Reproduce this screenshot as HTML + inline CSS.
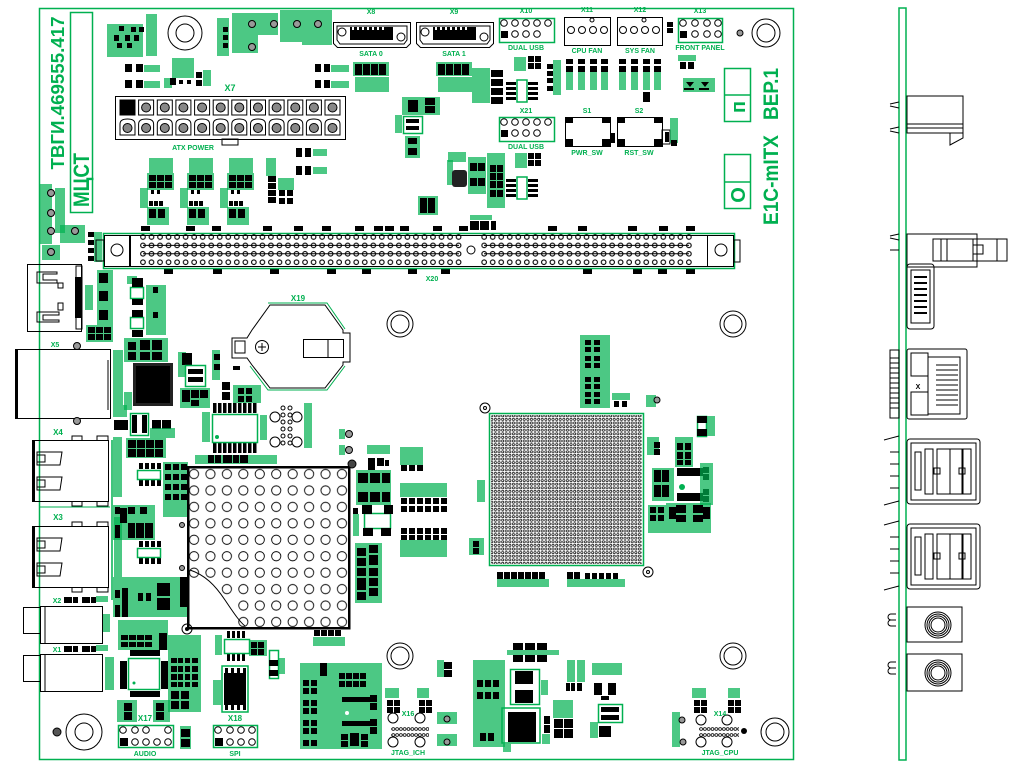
<!DOCTYPE html>
<html><head><meta charset="utf-8">
<style>
html,body{margin:0;padding:0;background:#fff;width:1024px;height:768px;overflow:hidden}
svg{display:block}
text{font-family:"Liberation Sans","DejaVu Sans",sans-serif;font-weight:bold;fill:#00b050}
.g{fill:#00b050}
.l{fill:#00b050;opacity:.7}
.k{fill:#000}
.o{fill:none;stroke:#000;stroke-width:1}
.ow{fill:#fff;stroke:#000;stroke-width:1}
.go{fill:none;stroke:#00b050;stroke-width:1.5}
.gw{fill:#fff;stroke:#00b050;stroke-width:1.5}
.tp{fill:#999;stroke:#000;stroke-width:1}
</style></head><body>
<svg width="1024" height="768" viewBox="0 0 1024 768">
<defs>
<pattern id="bga" x="490" y="414" width="3.6" height="3.6" patternUnits="userSpaceOnUse"><circle cx="1.8" cy="1.8" r="1.15" fill="none" stroke="#000" stroke-width="0.7"/></pattern>
<pattern id="pin" x="138.7" y="232.8" width="8.53" height="8.4" patternUnits="userSpaceOnUse"><circle cx="4.27" cy="4.2" r="2.3" fill="none" stroke="#000" stroke-width="1.1"/></pattern>
<pattern id="bigc" x="185.8" y="465.8" width="16.44" height="16.44" patternUnits="userSpaceOnUse"><circle cx="8.22" cy="8.22" r="4.6" fill="none" stroke="#000" stroke-width="0.9"/></pattern>
<pattern id="sp" x="0" y="0" width="3.8" height="6" patternUnits="userSpaceOnUse"><circle cx="1.9" cy="3" r="1.4" fill="none" stroke="#000" stroke-width="0.8"/></pattern>
</defs>

<!-- board outline -->
<rect x="39.5" y="8.5" width="754" height="751" class="go"/>
<!-- side bar -->
<rect x="899" y="8" width="7" height="752" class="go"/>

<!-- big texts -->
<text transform="translate(64,93) rotate(-90)" text-anchor="middle" font-size="18" textLength="153" lengthAdjust="spacingAndGlyphs">ТВГИ.469555.417</text>
<rect x="70.5" y="12.5" width="22" height="200" class="go"/>
<text transform="translate(89,180) rotate(-90)" text-anchor="middle" font-size="22" textLength="54" lengthAdjust="spacingAndGlyphs">МЦСТ</text>
<text transform="translate(778,94) rotate(-90)" text-anchor="middle" font-size="21" textLength="52" lengthAdjust="spacingAndGlyphs">ВЕР.1</text>
<text transform="translate(778,180) rotate(-90)" text-anchor="middle" font-size="21" textLength="90" lengthAdjust="spacingAndGlyphs">E1C-mITX</text>
<rect x="724.5" y="68.5" width="26" height="53" class="go"/><line x1="724" y1="95" x2="751" y2="95" stroke="#00b050" stroke-width="1.5"/>
<text transform="translate(745,107) rotate(-90)" text-anchor="middle" font-size="20">п</text>
<rect x="724.5" y="154.5" width="26" height="54" class="go"/><line x1="724" y1="182" x2="751" y2="182" stroke="#00b050" stroke-width="1.5"/>
<text transform="translate(745,195) rotate(-90)" text-anchor="middle" font-size="20">О</text>

<!-- mounting holes -->
<g class="o">
<circle cx="185" cy="33" r="17"/><circle cx="185" cy="33" r="9"/>
<circle cx="766" cy="33" r="14"/><circle cx="766" cy="33" r="9"/>
<circle cx="400" cy="324" r="13"/><circle cx="400" cy="324" r="9"/>
<circle cx="733" cy="324" r="13"/><circle cx="733" cy="324" r="9"/>
<circle cx="400" cy="656" r="13"/><circle cx="400" cy="656" r="9"/>
<circle cx="733" cy="656" r="13"/><circle cx="733" cy="656" r="9"/>
<circle cx="775" cy="732" r="14"/><circle cx="775" cy="732" r="9"/>
<circle cx="84" cy="732" r="18"/><circle cx="84" cy="732" r="9"/>
</g>
<circle cx="740" cy="33" r="3" class="tp" fill="#444"/>
<circle cx="57" cy="732" r="4" fill="#555" stroke="#000"/>

<!-- ===== top-left region ===== -->
<rect class="l" x="107" y="24" width="36" height="33"/><rect class="l" x="146" y="14" width="11" height="42"/>
<g class="k"><rect x="119" y="26" width="5" height="5"/><rect x="131" y="27" width="5" height="5"/><rect x="139" y="27" width="5" height="5"/><rect x="114" y="35" width="5" height="6"/><rect x="125" y="35" width="5" height="6"/><rect x="134" y="35" width="5" height="6"/><rect x="117" y="43" width="5" height="5"/><rect x="127" y="43" width="5" height="5"/></g>
<g class="k"><rect x="125" y="64" width="7" height="8"/><rect x="136" y="64" width="7" height="8"/><rect x="125" y="80" width="7" height="8"/><rect x="136" y="80" width="7" height="8"/></g>
<rect class="l" x="144" y="65" width="16" height="7"/><rect class="l" x="144" y="81" width="16" height="7"/>
<rect class="l" x="172" y="58" width="22" height="20"/><rect class="l" x="164" y="78" width="8" height="10"/><rect class="l" x="203" y="70" width="8" height="16"/>
<g class="k"><rect x="170" y="78" width="6" height="7"/><rect x="179" y="80" width="4" height="4"/><rect x="187" y="80" width="4" height="4"/><rect x="196" y="72" width="6" height="6"/><rect x="196" y="80" width="6" height="6"/></g>
<rect class="l" x="217" y="18" width="12" height="38"/><rect class="l" x="232" y="13" width="26" height="40"/><rect class="l" x="258" y="13" width="20" height="22"/><rect class="l" x="280" y="10" width="22" height="32"/><rect class="l" x="302" y="10" width="20" height="35"/><rect class="l" x="322" y="10" width="10" height="35"/>
<g class="k"><rect x="223" y="27" width="5" height="5"/><rect x="223" y="35" width="5" height="5"/><rect x="223" y="43" width="5" height="5"/></g>
<g class="tp"><circle cx="252" cy="24" r="3.5"/><circle cx="274" cy="24" r="3.5"/><circle cx="297" cy="24" r="3.5"/><circle cx="318" cy="24" r="3.5"/><circle cx="252" cy="47" r="3.5"/></g>
<g class="k"><rect x="315" y="64" width="6" height="8"/><rect x="324" y="64" width="6" height="8"/><rect x="315" y="80" width="6" height="8"/><rect x="324" y="80" width="6" height="8"/></g>
<rect class="l" x="331" y="65" width="18" height="7"/><rect class="l" x="331" y="81" width="18" height="7"/>

<!-- ATX power X7 -->
<text x="230" y="91" font-size="9" text-anchor="middle">X7</text>
<rect x="115.5" y="96.5" width="230" height="43" class="o" stroke-width="1.5"/>
<rect x="222" y="139" width="16" height="6" class="o"/>
<g class="o">
<rect x="120" y="100" width="15" height="15" fill="#000"/>
<rect x="138.6" y="100" width="15" height="15"/><rect x="157.3" y="100" width="15" height="15"/><rect x="175.9" y="100" width="15" height="15"/><rect x="194.6" y="100" width="15" height="15"/><rect x="213.2" y="100" width="15" height="15"/><rect x="231.8" y="100" width="15" height="15"/><rect x="250.5" y="100" width="15" height="15"/><rect x="269.1" y="100" width="15" height="15"/><rect x="287.8" y="100" width="15" height="15"/><rect x="306.4" y="100" width="15" height="15"/><rect x="325" y="100" width="15" height="15"/>
<path d="M120,135V124q0-5 7.5-5t7.5,5V135Z M138.6,135V124q0-5 7.5-5t7.5,5V135Z M157.3,135V124q0-5 7.5-5t7.5,5V135Z M175.9,135V124q0-5 7.5-5t7.5,5V135Z M194.6,135V124q0-5 7.5-5t7.5,5V135Z M213.2,135V124q0-5 7.5-5t7.5,5V135Z M231.8,135V124q0-5 7.5-5t7.5,5V135Z M250.5,135V124q0-5 7.5-5t7.5,5V135Z M269.1,135V124q0-5 7.5-5t7.5,5V135Z M287.8,135V124q0-5 7.5-5t7.5,5V135Z M306.4,135V124q0-5 7.5-5t7.5,5V135Z M325,135V124q0-5 7.5-5t7.5,5V135Z"/>
</g>
<g fill="#888" stroke="#000" stroke-width="1">
<circle cx="146.1" cy="107.5" r="4.5"/><circle cx="164.8" cy="107.5" r="4.5"/><circle cx="183.4" cy="107.5" r="4.5"/><circle cx="202.1" cy="107.5" r="4.5"/><circle cx="220.7" cy="107.5" r="4.5"/><circle cx="239.3" cy="107.5" r="4.5"/><circle cx="258" cy="107.5" r="4.5"/><circle cx="276.6" cy="107.5" r="4.5"/><circle cx="295.3" cy="107.5" r="4.5"/><circle cx="313.9" cy="107.5" r="4.5"/><circle cx="332.5" cy="107.5" r="4.5"/>
<circle cx="127.5" cy="128" r="4.5"/><circle cx="146.1" cy="128" r="4.5"/><circle cx="164.8" cy="128" r="4.5"/><circle cx="183.4" cy="128" r="4.5"/><circle cx="202.1" cy="128" r="4.5"/><circle cx="220.7" cy="128" r="4.5"/><circle cx="239.3" cy="128" r="4.5"/><circle cx="258" cy="128" r="4.5"/><circle cx="276.6" cy="128" r="4.5"/><circle cx="295.3" cy="128" r="4.5"/><circle cx="313.9" cy="128" r="4.5"/><circle cx="332.5" cy="128" r="4.5"/>
</g>
<text x="193" y="150" font-size="7" text-anchor="middle">ATX POWER</text>

<!-- clusters under ATX -->
<g id="cl1">
<rect class="l" x="149" y="158" width="24" height="15"/><rect class="l" x="147" y="173" width="27" height="17"/><rect class="l" x="140" y="188" width="8" height="20"/><rect class="l" x="147" y="207" width="22" height="18"/>
<g class="k"><rect x="149" y="175" width="7" height="6"/><rect x="157" y="175" width="7" height="6"/><rect x="165" y="175" width="7" height="6"/><rect x="149" y="182" width="7" height="6"/><rect x="157" y="182" width="7" height="6"/><rect x="165" y="182" width="7" height="6"/><rect x="151" y="190" width="3" height="4"/><rect x="157" y="190" width="3" height="4"/><rect x="149" y="201" width="4" height="5"/><rect x="154" y="201" width="4" height="5"/><rect x="159" y="201" width="4" height="5"/><rect x="149" y="209" width="7" height="9"/><rect x="158" y="209" width="7" height="9"/></g>
</g>
<use href="#cl1" x="40"/><use href="#cl1" x="80"/>
<rect class="l" x="266" y="158" width="10" height="18"/><rect class="l" x="278" y="178" width="16" height="12"/>
<g class="k"><rect x="268" y="176" width="8" height="6"/><rect x="268" y="183" width="8" height="6"/><rect x="268" y="190" width="8" height="6"/><rect x="268" y="197" width="8" height="6"/><rect x="279" y="190" width="6" height="6"/><rect x="287" y="190" width="6" height="6"/><rect x="279" y="198" width="6" height="6"/><rect x="287" y="198" width="6" height="6"/></g>
<g class="k"><rect x="296" y="148" width="6" height="9"/><rect x="305" y="148" width="6" height="9"/><rect x="296" y="166" width="6" height="9"/><rect x="305" y="166" width="6" height="9"/></g>
<rect class="l" x="313" y="149" width="14" height="7"/><rect class="l" x="313" y="167" width="14" height="7"/>

<!-- left edge labels -->
<rect class="l" x="40" y="184" width="12" height="60"/><rect class="l" x="55" y="188" width="10" height="45"/><rect class="l" x="60" y="225" width="25" height="18"/><rect class="l" x="42" y="245" width="18" height="15"/>
<g class="tp"><circle cx="51" cy="193" r="3.5"/><circle cx="51" cy="213" r="3.5"/><circle cx="51" cy="231" r="3.5"/><circle cx="75" cy="231" r="3.5"/><circle cx="51" cy="252" r="3.5"/></g>
<rect class="l" x="94" y="232" width="8" height="30"/>
<g class="k"><rect x="88" y="232" width="6" height="5"/><rect x="88" y="240" width="6" height="5"/><rect x="88" y="248" width="6" height="5"/><rect x="88" y="256" width="6" height="5"/></g>

<!-- ===== connector X20 ===== -->
<g class="k">
<rect x="141" y="226" width="9" height="5"/><rect x="186" y="226" width="9" height="5"/><rect x="212" y="226" width="9" height="5"/><rect x="263" y="226" width="9" height="5"/><rect x="294" y="226" width="9" height="5"/><rect x="322" y="226" width="9" height="5"/><rect x="355" y="226" width="9" height="5"/><rect x="374" y="226" width="9" height="5"/><rect x="385" y="226" width="9" height="5"/><rect x="400" y="226" width="9" height="5"/><rect x="433" y="226" width="9" height="5"/><rect x="459" y="226" width="9" height="5"/><rect x="548" y="226" width="9" height="5"/><rect x="578" y="226" width="9" height="5"/><rect x="628" y="226" width="9" height="5"/><rect x="659" y="226" width="9" height="5"/><rect x="686" y="226" width="9" height="5"/>
<rect x="164" y="269" width="9" height="5"/><rect x="213" y="269" width="9" height="5"/><rect x="270" y="269" width="9" height="5"/><rect x="327" y="269" width="9" height="5"/><rect x="362" y="269" width="9" height="5"/><rect x="408" y="269" width="9" height="5"/><rect x="441" y="269" width="9" height="5"/><rect x="583" y="269" width="9" height="5"/><rect x="633" y="269" width="9" height="5"/><rect x="658" y="269" width="9" height="5"/><rect x="686" y="269" width="9" height="5"/>
<rect x="470" y="221" width="9" height="9"/><rect x="480" y="221" width="9" height="9"/><rect x="491" y="221" width="5" height="9"/>
</g>
<rect class="l" x="470" y="215" width="22" height="5"/>
<text x="432" y="281" font-size="7" text-anchor="middle">X20</text>
<rect x="103.5" y="233.5" width="631" height="35" class="go"/>
<rect x="130.5" y="235.5" width="577" height="31" class="o" stroke-width="0.8"/>
<rect x="138.7" y="232.8" width="324.1" height="33.6" fill="url(#pin)"/>
<rect x="479.9" y="232.8" width="213.3" height="33.6" fill="url(#pin)"/>
<g stroke="#000" stroke-width="1"><line x1="143" y1="245.4" x2="459" y2="245.4"/><line x1="143" y1="253.8" x2="459" y2="253.8"/><line x1="484" y1="245.4" x2="689" y2="245.4"/><line x1="484" y1="253.8" x2="689" y2="253.8"/></g>
<circle cx="471" cy="250" r="4" class="ow"/>
<rect x="104.5" y="235.5" width="25" height="31" class="o"/><circle cx="117" cy="250" r="6" class="o"/><rect x="96" y="240" width="8" height="21" class="o"/>
<rect x="707.5" y="235.5" width="26" height="31" class="o"/><circle cx="721" cy="250" r="6" class="o"/><rect x="734" y="240" width="6" height="22" class="o"/>

<!-- ===== top middle ===== -->
<g id="sata">
<path d="M333.5,22.5h77v21l-4,4h-69l-4,-4z" class="o" stroke-width="1.3"/>
<path d="M337,26h70v14l-3,4h-64l-3,-4z" class="o"/>
<rect x="350" y="27" width="43" height="13" class="k"/>
<g fill="#fff"><rect x="352" y="27" width="2" height="3"/><rect x="357" y="27" width="2" height="3"/><rect x="362" y="27" width="2" height="3"/><rect x="367" y="27" width="2" height="3"/><rect x="372" y="27" width="2" height="3"/><rect x="377" y="27" width="2" height="3"/><rect x="382" y="27" width="2" height="3"/></g>
<circle cx="342" cy="32" r="4" class="ow"/><circle cx="401" cy="37" r="4" class="ow"/>
<rect class="l" x="353" y="62" width="36" height="14"/><rect class="l" x="355" y="77" width="34" height="15"/>
<g class="k"><rect x="355" y="64" width="7" height="11"/><rect x="363" y="64" width="7" height="11"/><rect x="371" y="64" width="7" height="11"/><rect x="379" y="64" width="7" height="11"/></g>
</g>
<use href="#sata" x="83"/>
<text x="371" y="14" font-size="7" text-anchor="middle">X8</text><text x="371" y="56" font-size="7" text-anchor="middle">SATA 0</text>
<text x="454" y="14" font-size="7" text-anchor="middle">X9</text><text x="454" y="56" font-size="7" text-anchor="middle">SATA 1</text>

<rect class="l" x="472" y="68" width="18" height="35"/>
<g class="k"><rect x="491" y="70" width="12" height="7"/><rect x="491" y="79" width="12" height="7"/><rect x="491" y="88" width="12" height="7"/><rect x="491" y="97" width="12" height="7"/></g>
<g id="ic8">
<rect x="517" y="80" width="10" height="22" class="gw" stroke-width="1"/>
<g class="k"><rect x="506" y="82" width="10" height="3"/><rect x="506" y="87" width="10" height="3"/><rect x="506" y="92" width="10" height="3"/><rect x="506" y="97" width="10" height="3"/><rect x="528" y="82" width="10" height="3"/><rect x="528" y="87" width="10" height="3"/><rect x="528" y="92" width="10" height="3"/><rect x="528" y="97" width="10" height="3"/></g>
</g>
<use href="#ic8" y="97"/>
<rect class="l" x="514" y="57" width="12" height="14"/>
<g class="k"><rect x="528" y="56" width="6" height="6"/><rect x="535" y="56" width="6" height="6"/><rect x="528" y="63" width="6" height="6"/><rect x="535" y="63" width="6" height="6"/></g>
<rect class="l" x="553" y="60" width="8" height="35"/>
<g class="k"><rect x="547" y="64" width="6" height="5"/><rect x="547" y="71" width="6" height="5"/><rect x="547" y="78" width="6" height="5"/><rect x="547" y="86" width="6" height="5"/></g>
<!-- fan pads -->
<g id="fanp">
<rect class="l" x="566" y="72" width="7" height="18"/><rect class="l" x="578" y="72" width="7" height="18"/><rect class="l" x="590" y="72" width="7" height="18"/><rect class="l" x="601" y="72" width="7" height="18"/>
<g class="k"><rect x="566" y="59" width="7" height="5"/><rect x="566" y="66" width="7" height="6"/><rect x="578" y="59" width="7" height="5"/><rect x="578" y="66" width="7" height="6"/><rect x="590" y="59" width="7" height="5"/><rect x="590" y="66" width="7" height="6"/><rect x="601" y="59" width="7" height="5"/><rect x="601" y="66" width="7" height="6"/></g>
</g>
<use href="#fanp" x="53"/>
<g class="k"><rect x="643" y="92" width="7" height="10"/><rect x="667" y="22" width="6" height="5"/><rect x="667" y="28" width="6" height="5"/><rect x="680" y="62" width="6" height="7"/><rect x="688" y="62" width="6" height="7"/></g>
<rect class="l" x="678" y="55" width="18" height="6"/><rect class="l" x="683" y="78" width="32" height="14"/>
<g class="k"><path d="M686,82h8l-4,5z M701,82h8l-4,5z"/><rect x="684" y="88" width="10" height="2"/><rect x="699" y="88" width="10" height="2"/></g>

<rect class="l" x="402" y="97" width="38" height="18"/>
<g class="k"><rect x="408" y="100" width="10" height="12"/><rect x="425" y="98" width="10" height="7"/><rect x="425" y="106" width="10" height="7"/></g>
<rect x="403.5" y="116.5" width="19" height="17" class="gw" stroke-width="1"/>
<g class="k"><rect x="406" y="119" width="13" height="4"/><rect x="406" y="126" width="13" height="4"/></g>
<rect class="l" x="395" y="115" width="7" height="18"/>
<rect class="l" x="405" y="136" width="15" height="22"/>
<g class="k"><rect x="408" y="138" width="9" height="6"/><rect x="408" y="148" width="9" height="7"/></g>
<rect class="l" x="448" y="152" width="18" height="10"/><rect class="l" x="447" y="160" width="6" height="25"/>
<rect x="452" y="170" width="15" height="17" rx="3" fill="#222"/>
<rect class="l" x="468" y="157" width="18" height="37"/>
<g class="k"><rect x="470" y="163" width="7" height="8"/><rect x="478" y="163" width="7" height="8"/><rect x="470" y="178" width="7" height="8"/><rect x="478" y="178" width="7" height="8"/></g>
<rect class="l" x="487" y="153" width="18" height="55"/>
<g class="k"><rect x="490" y="165" width="6" height="7"/><rect x="497" y="165" width="6" height="7"/><rect x="490" y="173" width="6" height="7"/><rect x="497" y="173" width="6" height="7"/><rect x="490" y="181" width="6" height="7"/><rect x="497" y="181" width="6" height="7"/><rect x="490" y="190" width="6" height="7"/><rect x="497" y="190" width="6" height="7"/></g>
<rect class="l" x="515" y="153" width="12" height="15"/>
<g class="k"><rect x="528" y="153" width="6" height="6"/><rect x="535" y="153" width="6" height="6"/><rect x="528" y="160" width="6" height="6"/><rect x="535" y="160" width="6" height="6"/></g>
<rect class="l" x="418" y="196" width="20" height="19"/>
<g class="k"><rect x="420" y="198" width="7" height="15"/><rect x="428" y="198" width="7" height="15"/></g>

<!-- X10 / X21 dual usb -->
<g id="dusb">
<rect x="499.5" y="18.5" width="55" height="24" class="go"/>
<g class="o" stroke-width="1.2"><circle cx="504" cy="23" r="3.3"/><circle cx="515" cy="23" r="3.3"/><circle cx="526" cy="23" r="3.3"/><circle cx="537" cy="23" r="3.3"/><circle cx="548" cy="23" r="3.3"/><circle cx="515" cy="34" r="3.3"/><circle cx="526" cy="34" r="3.3"/><circle cx="537" cy="34" r="3.3"/></g>
<rect x="501" y="31" width="7" height="7" class="k"/>
</g>
<use href="#dusb" y="99"/>
<text x="526" y="13" font-size="7" text-anchor="middle">X10</text><text x="526" y="50" font-size="7" text-anchor="middle">DUAL USB</text>
<text x="526" y="113" font-size="7" text-anchor="middle">X21</text><text x="526" y="149" font-size="7" text-anchor="middle">DUAL USB</text>
<!-- fans -->
<rect x="564.5" y="17.5" width="46" height="28" class="o"/>
<g class="o" stroke-width="1.2"><circle cx="571" cy="30" r="3.5"/><circle cx="582" cy="30" r="3.5"/><circle cx="593" cy="30" r="3.5"/><circle cx="604" cy="30" r="3.5"/><circle cx="592" cy="20" r="2"/></g>
<rect x="617.5" y="17.5" width="45" height="28" class="o"/>
<g class="o" stroke-width="1.2"><circle cx="623" cy="30" r="3.5"/><circle cx="634" cy="30" r="3.5"/><circle cx="645" cy="30" r="3.5"/><circle cx="656" cy="30" r="3.5"/><circle cx="644" cy="20" r="2"/></g>
<text x="587" y="12" font-size="7" text-anchor="middle">X11</text><text x="587" y="53" font-size="7" text-anchor="middle">CPU FAN</text>
<text x="640" y="12" font-size="7" text-anchor="middle">X12</text><text x="640" y="53" font-size="7" text-anchor="middle">SYS FAN</text>
<!-- X13 -->
<rect x="678.5" y="18.5" width="44" height="24" class="go"/>
<g class="o" stroke-width="1.2"><circle cx="683" cy="23" r="3.3"/><circle cx="695" cy="23" r="3.3"/><circle cx="707" cy="23" r="3.3"/><circle cx="718" cy="23" r="3.3"/><circle cx="695" cy="34" r="3.3"/><circle cx="707" cy="34" r="3.3"/><circle cx="718" cy="34" r="3.3"/></g>
<rect x="680" y="31" width="7" height="7" class="k"/>
<text x="700" y="13" font-size="7" text-anchor="middle">X13</text><text x="700" y="50" font-size="7" text-anchor="middle">FRONT PANEL</text>
<!-- switches -->
<g id="sw">
<rect x="565.5" y="117.5" width="45" height="29" class="o"/>
<g class="k"><rect x="565" y="117" width="8" height="6"/><rect x="602" y="117" width="8" height="6"/><rect x="565" y="139" width="8" height="7"/><rect x="602" y="139" width="8" height="7"/></g>
</g>
<use href="#sw" x="52"/>
<rect x="611" y="133" width="4" height="10" class="k"/>
<rect x="662" y="130" width="8" height="14" class="o"/><rect class="l" x="670" y="118" width="8" height="25"/>
<g class="k"><rect x="665" y="132" width="4" height="10"/><rect x="671" y="140" width="6" height="6"/></g>
<text x="587" y="113" font-size="7" text-anchor="middle">S1</text><text x="587" y="155" font-size="7" text-anchor="middle">PWR_SW</text>
<text x="639" y="113" font-size="7" text-anchor="middle">S2</text><text x="639" y="155" font-size="7" text-anchor="middle">RST_SW</text>

<!-- ===== left edge connectors (top view) ===== -->
<!-- HDMI -->
<rect x="27.5" y="264.5" width="54" height="67" class="o"/>
<rect x="76" y="266" width="6" height="63" class="o"/>
<rect x="75" y="277" width="6" height="41" class="k"/>
<path d="M37,272h20v2h-14v6h14v3h-20z" class="o"/><path d="M37,312h22v3h-16v5h16v2h-22z" class="o"/>
<rect x="58" y="283" width="5" height="5" class="o"/><rect x="58" y="303" width="5" height="7" class="o"/>
<text x="55" y="347" font-size="7" text-anchor="middle">X5</text>
<!-- Ethernet -->
<rect x="16.5" y="349.5" width="94" height="69" class="o" stroke-width="1.5"/>
<rect x="15" y="349" width="3" height="70" class="k"/>
<line x1="108" y1="360" x2="108" y2="410" stroke="#000"/>
<g class="tp"><circle cx="77" cy="346" r="3.5"/><circle cx="77" cy="421" r="3.5"/></g>
<!-- USB X4, X3 -->
<g id="usb">
<rect x="32.5" y="440.5" width="76" height="61" class="o" stroke-width="1.3"/>
<rect x="32" y="440" width="3" height="62" class="k"/>
<path d="M37,452h25l-2,13h-23z M37,477h25l-2,13h-23z" class="o"/>
<rect x="37" y="455" width="8" height="7" class="o"/><rect x="37" y="480" width="8" height="7" class="o"/>
<path d="M72,440v-4h10v4 M97,440v-4h11v4 M72,502v4h10v-4 M97,502v4h11v-4" class="o"/>
</g>
<use href="#usb" y="86"/>
<text x="58" y="435" font-size="8" text-anchor="middle">X4</text>
<text x="58" y="520" font-size="8" text-anchor="middle">X3</text>
<line x1="40" y1="507" x2="110" y2="507" stroke="#00b050"/>
<line x1="112" y1="440" x2="112" y2="600" stroke="#00b050" stroke-width="1.5"/>
<!-- Audio -->
<rect x="23.5" y="607.5" width="17" height="26" class="o"/><rect x="40.5" y="606.5" width="62" height="37" class="o" stroke-width="1.3"/><line x1="45" y1="606" x2="45" y2="643" stroke="#000"/>
<rect x="23.5" y="655.5" width="17" height="26" class="o"/><rect x="40.5" y="654.5" width="62" height="37" class="o" stroke-width="1.3"/><line x1="45" y1="654" x2="45" y2="691" stroke="#000"/>
<g class="k"><rect x="64" y="597" width="8" height="6"/><rect x="73" y="597" width="5" height="6"/><rect x="82" y="597" width="8" height="6"/><rect x="91" y="597" width="5" height="6"/><rect x="64" y="646" width="8" height="6"/><rect x="73" y="646" width="5" height="6"/><rect x="82" y="646" width="8" height="6"/><rect x="91" y="646" width="5" height="6"/></g>
<rect class="l" x="96" y="596" width="12" height="6"/><rect class="l" x="96" y="645" width="12" height="6"/>
<text x="57" y="603" font-size="7" text-anchor="middle">X2</text><text x="57" y="652" font-size="7" text-anchor="middle">X1</text>
<rect class="l" x="103" y="614" width="7" height="18"/><rect class="l" x="105" y="657" width="9" height="33"/>

<!-- ===== left-middle components ===== -->
<rect class="l" x="97" y="270" width="16" height="55"/><rect class="l" x="85" y="285" width="8" height="25"/>
<g class="k"><rect x="99" y="273" width="9" height="10"/><rect x="99" y="291" width="9" height="10"/><rect x="99" y="310" width="9" height="10"/></g>
<rect class="l" x="86" y="325" width="27" height="17"/>
<g class="k"><rect x="88" y="327" width="7" height="6"/><rect x="96" y="327" width="7" height="6"/><rect x="104" y="327" width="7" height="6"/><rect x="88" y="334" width="7" height="6"/><rect x="96" y="334" width="7" height="6"/><rect x="104" y="334" width="7" height="6"/></g>
<rect class="l" x="127" y="276" width="10" height="8"/><rect class="l" x="146" y="285" width="20" height="50"/><rect class="l" x="124" y="338" width="44" height="24"/>
<rect x="130.5" y="287.5" width="13" height="11" class="gw" stroke-width="1"/><rect x="130.5" y="317.5" width="13" height="11" class="gw" stroke-width="1"/>
<g class="k"><rect x="132" y="278" width="11" height="9"/><rect x="132" y="299" width="11" height="6"/><rect x="132" y="310" width="11" height="7"/><rect x="132" y="330" width="11" height="7"/><rect x="153" y="287" width="5" height="6"/><rect x="153" y="312" width="5" height="6"/><rect x="128" y="342" width="8" height="8"/><rect x="140" y="340" width="10" height="10"/><rect x="152" y="340" width="10" height="10"/><rect x="128" y="352" width="8" height="8"/><rect x="140" y="352" width="10" height="8"/><rect x="152" y="352" width="10" height="8"/></g>
<!-- QFP -->
<rect x="133" y="363" width="40" height="43" fill="#222"/><rect x="136" y="366" width="34" height="37" class="k"/>
<rect class="l" x="113" y="350" width="10" height="55"/><rect class="l" x="124" y="392" width="8" height="18"/>
<rect class="l" x="178" y="352" width="8" height="25"/>
<rect x="182" y="353" width="10" height="12" class="k"/>
<rect x="185.5" y="365.5" width="20" height="21" class="gw" stroke-width="1"/>
<g class="k"><rect x="188" y="369" width="15" height="5"/><rect x="188" y="377" width="15" height="5"/></g>
<rect class="l" x="180" y="388" width="30" height="20"/>
<g class="k"><rect x="182" y="390" width="8" height="12"/><rect x="191" y="390" width="8" height="8"/><rect x="200" y="390" width="8" height="8"/><rect x="191" y="400" width="8" height="6"/></g>
<rect class="l" x="212" y="350" width="8" height="30"/>
<g class="k"><rect x="214" y="354" width="6" height="6"/><rect x="214" y="364" width="6" height="6"/><rect x="222" y="382" width="8" height="8"/><rect x="222" y="392" width="8" height="8"/></g>
<rect class="l" x="233" y="385" width="28" height="18"/>
<g class="k"><rect x="238" y="388" width="6" height="6"/><rect x="246" y="388" width="6" height="6"/><rect x="238" y="396" width="6" height="6"/><rect x="246" y="396" width="6" height="6"/></g>
<!-- IC DD8 -->
<g class="k"><rect x="213" y="403" width="3.5" height="10"/><rect x="218" y="403" width="3.5" height="10"/><rect x="223" y="403" width="3.5" height="10"/><rect x="228" y="403" width="3.5" height="10"/><rect x="233" y="403" width="3.5" height="10"/><rect x="238" y="403" width="3.5" height="10"/><rect x="243" y="403" width="3.5" height="10"/><rect x="248" y="403" width="3.5" height="10"/><rect x="253" y="403" width="3.5" height="10"/>
<rect x="213" y="443" width="3.5" height="10"/><rect x="218" y="443" width="3.5" height="10"/><rect x="223" y="443" width="3.5" height="10"/><rect x="228" y="443" width="3.5" height="10"/><rect x="233" y="443" width="3.5" height="10"/><rect x="238" y="443" width="3.5" height="10"/><rect x="243" y="443" width="3.5" height="10"/><rect x="248" y="443" width="3.5" height="10"/><rect x="253" y="443" width="3.5" height="10"/></g>
<rect x="212.5" y="414.5" width="45" height="28" class="gw" stroke-width="1.2"/>
<circle cx="217" cy="437" r="2" class="g"/>
<rect class="l" x="202" y="412" width="8" height="30"/>
<rect class="l" x="195" y="455" width="82" height="9"/>
<g class="k"><rect x="208" y="455" width="6" height="8"/><rect x="215" y="455" width="6" height="8"/><rect x="223" y="455" width="9" height="8"/><rect x="233" y="455" width="6" height="8"/><rect x="240" y="455" width="8" height="8"/></g>
<!-- UART DON -->
<g class="o"><circle cx="275" cy="417" r="5"/><circle cx="297" cy="417" r="5"/><circle cx="275" cy="442" r="5"/><circle cx="297" cy="442" r="5"/>
<circle cx="283" cy="408" r="2"/><circle cx="290" cy="408" r="2"/><circle cx="283" cy="415" r="2"/><circle cx="290" cy="415" r="2"/><circle cx="283" cy="422" r="2"/><circle cx="290" cy="422" r="2"/><circle cx="283" cy="429" r="2"/><circle cx="290" cy="429" r="2"/><circle cx="283" cy="436" r="2"/><circle cx="290" cy="436" r="2"/><circle cx="283" cy="443" r="2"/><circle cx="290" cy="443" r="2"/></g>
<rect class="l" x="304" y="403" width="8" height="45"/><rect class="l" x="260" y="415" width="7" height="25"/>
<g class="tp"><circle cx="349" cy="434" r="3.5"/><circle cx="349" cy="450" r="3.5"/></g>
<rect class="l" x="339" y="429" width="6" height="10"/><rect class="l" x="339" y="445" width="6" height="10"/>
<!-- misc cluster -->
<rect x="114" y="420" width="14" height="10" class="k"/>
<rect x="130.5" y="413.5" width="18" height="22" class="gw" stroke-width="1"/>
<g class="k"><rect x="132" y="415" width="5" height="18"/><rect x="142" y="415" width="5" height="18"/><rect x="152" y="420" width="9" height="9"/><rect x="162" y="420" width="9" height="9"/></g>
<rect class="l" x="113" y="405" width="14" height="12"/><rect class="l" x="150" y="428" width="25" height="10"/>
<rect class="l" x="126" y="438" width="40" height="20"/>
<g class="k"><rect x="128" y="440" width="8" height="8"/><rect x="137" y="440" width="8" height="8"/><rect x="146" y="440" width="8" height="8"/><rect x="155" y="440" width="8" height="8"/><rect x="128" y="449" width="8" height="8"/><rect x="137" y="449" width="8" height="8"/><rect x="146" y="449" width="8" height="8"/><rect x="155" y="449" width="8" height="8"/></g>
<rect class="l" x="113" y="437" width="9" height="60"/><rect class="l" x="114" y="517" width="8" height="60"/>
<g id="ic4">
<g class="k"><rect x="139" y="463" width="4" height="6"/><rect x="145" y="463" width="4" height="6"/><rect x="151" y="463" width="4" height="6"/><rect x="157" y="463" width="4" height="6"/><rect x="139" y="480" width="4" height="6"/><rect x="145" y="480" width="4" height="6"/><rect x="151" y="480" width="4" height="6"/><rect x="157" y="480" width="4" height="6"/></g>
<rect x="137.5" y="470.5" width="23" height="9" class="gw" stroke-width="1"/>
</g>
<use href="#ic4" y="78"/>
<rect class="l" x="163" y="462" width="25" height="55"/>
<g class="k"><rect x="165" y="464" width="6" height="6"/><rect x="173" y="464" width="6" height="6"/><rect x="181" y="464" width="6" height="6"/><rect x="165" y="474" width="6" height="6"/><rect x="173" y="474" width="6" height="6"/><rect x="181" y="474" width="6" height="6"/><rect x="165" y="484" width="6" height="6"/><rect x="173" y="484" width="6" height="6"/><rect x="181" y="484" width="6" height="6"/><rect x="165" y="494" width="6" height="6"/><rect x="173" y="494" width="6" height="6"/><rect x="181" y="494" width="6" height="6"/></g>
<rect class="l" x="113" y="505" width="42" height="35"/>
<g class="k"><rect x="115" y="507" width="5" height="7"/><rect x="120" y="508" width="7" height="15"/><rect x="128" y="507" width="7" height="7"/><rect x="140" y="507" width="7" height="7"/><rect x="115" y="525" width="5" height="13"/><rect x="128" y="523" width="7" height="15"/><rect x="136" y="523" width="8" height="15"/><rect x="145" y="523" width="8" height="15"/></g>
<rect class="l" x="113" y="577" width="75" height="40"/>
<g class="k"><rect x="115" y="590" width="5" height="8"/><rect x="122" y="588" width="6" height="29"/><rect x="115" y="605" width="5" height="12"/><rect x="138" y="593" width="5" height="8"/><rect x="146" y="593" width="5" height="8"/><rect x="157" y="583" width="13" height="13"/><rect x="157" y="598" width="13" height="12"/><rect x="180" y="577" width="7" height="30"/></g>
<rect class="l" x="118" y="620" width="50" height="30"/>
<g class="k"><rect x="121" y="635" width="7" height="5"/><rect x="129" y="635" width="7" height="5"/><rect x="137" y="635" width="7" height="5"/><rect x="145" y="635" width="7" height="5"/><rect x="121" y="642" width="7" height="5"/><rect x="129" y="642" width="7" height="5"/><rect x="137" y="642" width="7" height="5"/><rect x="145" y="642" width="7" height="5"/><rect x="159" y="633" width="8" height="17"/></g>
<!-- audio codec QFP -->
<g class="k"><rect x="130" y="650" width="30" height="6"/><rect x="130" y="691" width="30" height="6"/><rect x="120" y="661" width="7" height="28"/><rect x="161" y="661" width="7" height="28"/></g>
<rect x="128.5" y="658.5" width="31" height="31" class="gw" stroke-width="1.5"/>
<circle cx="134" cy="683" r="1.5" class="g"/>
<rect class="l" x="168" y="635" width="33" height="77"/>
<g class="k"><rect x="171" y="658" width="6" height="5"/><rect x="178" y="658" width="5" height="5"/><rect x="185" y="658" width="5" height="5"/><rect x="192" y="658" width="6" height="5"/><rect x="171" y="666" width="6" height="6"/><rect x="178" y="666" width="5" height="6"/><rect x="185" y="666" width="5" height="6"/><rect x="192" y="666" width="6" height="6"/><rect x="171" y="674" width="6" height="6"/><rect x="178" y="674" width="5" height="6"/><rect x="185" y="674" width="5" height="6"/><rect x="192" y="674" width="6" height="6"/><rect x="171" y="682" width="6" height="5"/><rect x="178" y="682" width="5" height="5"/><rect x="185" y="682" width="5" height="5"/><rect x="192" y="682" width="6" height="5"/><rect x="171" y="691" width="8" height="8"/><rect x="181" y="691" width="8" height="8"/><rect x="171" y="701" width="8" height="8"/><rect x="181" y="701" width="8" height="8"/></g>
<!-- small ICs bottom -->
<g class="k"><rect x="227" y="631" width="3" height="7"/><rect x="232" y="631" width="3" height="7"/><rect x="237" y="631" width="3" height="7"/><rect x="242" y="631" width="3" height="7"/><rect x="227" y="654" width="3" height="7"/><rect x="232" y="654" width="3" height="7"/><rect x="237" y="654" width="3" height="7"/><rect x="242" y="654" width="3" height="7"/></g>
<rect x="224.5" y="639.5" width="25" height="14" class="gw" stroke-width="1"/>
<rect class="l" x="215" y="635" width="7" height="20"/>
<rect class="l" x="249" y="640" width="18" height="16"/>
<g class="k"><rect x="251" y="642" width="6" height="6"/><rect x="258" y="642" width="6" height="6"/><rect x="251" y="649" width="6" height="6"/><rect x="258" y="649" width="6" height="6"/></g>
<rect x="222" y="666" width="26" height="46" class="go" stroke-width="1"/>
<rect x="224" y="673" width="22" height="32" class="k"/>
<g class="k"><rect x="225" y="668" width="3" height="5"/><rect x="231" y="668" width="3" height="5"/><rect x="237" y="668" width="3" height="5"/><rect x="243" y="668" width="3" height="5"/><rect x="225" y="705" width="3" height="5"/><rect x="231" y="705" width="3" height="5"/><rect x="237" y="705" width="3" height="5"/><rect x="243" y="705" width="3" height="5"/></g>
<rect class="l" x="213" y="680" width="8" height="25"/>
<rect x="269.5" y="650.5" width="9" height="28" class="go" stroke-width="1"/>
<g class="k"><rect x="269" y="660" width="9" height="6"/><rect x="269" y="670" width="9" height="6"/></g>
<rect class="l" x="279" y="658" width="6" height="16"/>
<!-- X17, X18 -->
<rect x="118.5" y="725.5" width="55" height="22" class="go"/>
<g class="o" stroke-width="1.2"><circle cx="123" cy="730" r="3.3"/><circle cx="135" cy="730" r="3.3"/><circle cx="146" cy="730" r="3.3"/><circle cx="168" cy="730" r="3.3"/><circle cx="135" cy="742" r="3.3"/><circle cx="146" cy="742" r="3.3"/><circle cx="157" cy="742" r="3.3"/><circle cx="168" cy="742" r="3.3"/></g>
<rect x="120" y="738" width="8" height="8" class="k"/>
<text x="145" y="721" font-size="8" text-anchor="middle">X17</text><text x="145" y="756" font-size="7" text-anchor="middle">AUDIO</text>
<rect class="l" x="180" y="726" width="11" height="23"/>
<g class="k"><rect x="181" y="729" width="9" height="8"/><rect x="181" y="739" width="9" height="8"/></g>
<rect x="213.5" y="725.5" width="44" height="22" class="go"/>
<g class="o" stroke-width="1.2"><circle cx="218" cy="730" r="3.3"/><circle cx="230" cy="730" r="3.3"/><circle cx="241" cy="730" r="3.3"/><circle cx="252" cy="730" r="3.3"/><circle cx="230" cy="742" r="3.3"/><circle cx="241" cy="742" r="3.3"/><circle cx="252" cy="742" r="3.3"/></g>
<rect x="215" y="738" width="8" height="8" class="k"/>
<text x="235" y="721" font-size="8" text-anchor="middle">X18</text><text x="235" y="756" font-size="7" text-anchor="middle">SPI</text>
<rect class="l" x="117" y="700" width="20" height="22"/><rect class="l" x="153" y="700" width="17" height="22"/>
<g class="k"><rect x="124" y="703" width="8" height="8"/><rect x="124" y="712" width="8" height="8"/><rect x="156" y="703" width="8" height="8"/><rect x="156" y="712" width="8" height="8"/></g>

<!-- battery X19 -->
<text x="298" y="301" font-size="8" text-anchor="middle">X19</text>
<path d="M270,305H325L343,330V333H350V362H343V365L325,388H270L252,365L247,358H232V338H247L252,330Z" class="o" stroke-width="1.2"/>
<path d="M268,303H327L345,329M345,366L327,390H268L250,366" fill="none" stroke="#00b050" stroke-width="1"/>
<circle cx="262" cy="347" r="6.5" class="o"/><path d="M258,347h8M262,343v8" stroke="#000"/>
<rect x="303.5" y="339.5" width="40" height="18" class="o"/><line x1="328" y1="339" x2="328" y2="358" stroke="#000"/>
<rect x="235" y="341" width="10" height="12" class="o"/>
<rect x="233" y="366" width="7" height="4" class="k"/>

<!-- ===== big chip ===== -->
<rect x="188" y="467" width="161" height="161" fill="url(#bigc)"/>
<rect x="189" y="582" width="29.5" height="14" fill="#fff"/>
<rect x="189" y="597.5" width="46" height="29.5" fill="#fff"/>
<path d="M190,570C205,575 215,585 225,600S240,622 245,626" fill="none" stroke="#000"/>
<rect x="188.25" y="467.25" width="161" height="161" fill="none" stroke="#000" stroke-width="2.5"/>
<circle cx="352" cy="464" r="4" fill="#444" stroke="#000"/><circle cx="187" cy="629" r="5" class="o"/><circle cx="187" cy="629" r="2" class="k"/>
<circle cx="182" cy="525" r="2.5" class="tp"/><circle cx="182" cy="568" r="2.5" class="tp"/>

<!-- right of big chip -->
<rect class="l" x="367" y="445" width="23" height="9"/>
<g class="k"><rect x="368" y="458" width="7" height="12"/><rect x="377" y="458" width="7" height="8"/><rect x="385" y="460" width="4" height="6"/></g>
<rect class="l" x="356" y="470" width="35" height="35"/>
<g class="k"><rect x="358" y="473" width="10" height="10"/><rect x="370" y="473" width="10" height="10"/><rect x="382" y="473" width="8" height="10"/><rect x="358" y="492" width="10" height="10"/><rect x="370" y="492" width="10" height="10"/><rect x="382" y="492" width="8" height="10"/></g>
<rect x="364.5" y="513.5" width="26" height="15" class="go" stroke-width="1"/>
<g class="k"><rect x="362" y="505" width="10" height="9"/><rect x="384" y="505" width="9" height="9"/><rect x="363" y="528" width="10" height="8"/><rect x="381" y="528" width="10" height="8"/><rect x="353" y="508" width="5" height="6"/></g>
<rect class="l" x="353" y="514" width="6" height="22"/>
<rect class="l" x="400" y="447" width="23" height="18"/>
<g class="k"><rect x="401" y="465" width="6" height="6"/><rect x="409" y="465" width="6" height="6"/><rect x="417" y="465" width="6" height="6"/></g>
<rect class="l" x="400" y="483" width="47" height="14"/>
<g class="k"><rect x="401" y="498" width="6" height="6"/><rect x="409" y="498" width="6" height="6"/><rect x="417" y="498" width="6" height="6"/><rect x="425" y="498" width="6" height="6"/><rect x="433" y="498" width="6" height="6"/><rect x="441" y="498" width="6" height="6"/><rect x="401" y="506" width="6" height="6"/><rect x="409" y="506" width="6" height="6"/><rect x="417" y="506" width="6" height="6"/><rect x="425" y="506" width="6" height="6"/><rect x="433" y="506" width="6" height="6"/><rect x="441" y="506" width="6" height="6"/></g>
<g class="k"><rect x="401" y="528" width="6" height="6"/><rect x="409" y="528" width="6" height="6"/><rect x="417" y="528" width="6" height="6"/><rect x="425" y="528" width="6" height="6"/><rect x="433" y="528" width="6" height="6"/><rect x="441" y="528" width="6" height="6"/><rect x="401" y="535" width="6" height="5"/><rect x="409" y="535" width="6" height="5"/><rect x="417" y="535" width="6" height="5"/><rect x="425" y="535" width="6" height="5"/><rect x="433" y="535" width="6" height="5"/><rect x="441" y="535" width="6" height="5"/></g>
<rect class="l" x="400" y="540" width="47" height="17"/>
<rect class="l" x="355" y="543" width="27" height="60"/>
<g class="k"><rect x="357" y="548" width="9" height="8"/><rect x="357" y="558" width="9" height="8"/><rect x="357" y="568" width="9" height="8"/><rect x="357" y="578" width="9" height="12"/><rect x="357" y="592" width="9" height="8"/><rect x="369" y="545" width="9" height="8"/><rect x="369" y="555" width="9" height="10"/><rect x="369" y="568" width="9" height="8"/><rect x="369" y="578" width="9" height="8"/><rect x="369" y="588" width="9" height="8"/></g>
<rect class="l" x="469" y="538" width="15" height="17"/>
<g class="k"><rect x="473" y="541" width="6" height="6"/><rect x="473" y="548" width="6" height="6"/></g>
<rect class="l" x="477" y="480" width="8" height="22"/>

<!-- ===== BGA ===== -->
<rect x="491" y="415" width="151" height="149" fill="url(#bga)"/>
<rect x="489.5" y="413.5" width="154" height="152" class="go"/>
<circle cx="485" cy="408" r="5" class="o"/><circle cx="485" cy="408" r="1.5" class="o"/>
<circle cx="648" cy="572" r="5" class="o"/><circle cx="648" cy="572" r="1.5" class="o"/>
<rect class="l" x="580" y="335" width="30" height="73"/>
<g class="k"><rect x="585" y="340" width="6" height="5"/><rect x="594" y="340" width="6" height="5"/><rect x="585" y="347" width="6" height="5"/><rect x="594" y="347" width="6" height="5"/><rect x="585" y="356" width="6" height="5"/><rect x="594" y="356" width="6" height="5"/><rect x="585" y="363" width="6" height="5"/><rect x="594" y="363" width="6" height="5"/><rect x="585" y="377" width="6" height="5"/><rect x="594" y="377" width="6" height="5"/><rect x="585" y="384" width="6" height="5"/><rect x="594" y="384" width="6" height="5"/><rect x="585" y="392" width="6" height="5"/><rect x="594" y="392" width="6" height="5"/><rect x="585" y="399" width="6" height="5"/><rect x="594" y="399" width="6" height="5"/></g>
<rect class="l" x="612" y="393" width="18" height="7"/>
<g class="k"><rect x="614" y="401" width="5" height="6"/><rect x="622" y="401" width="5" height="6"/></g>
<rect class="l" x="646" y="395" width="10" height="12"/><circle cx="657" cy="400" r="3" class="tp"/>
<g class="k"><rect x="497" y="572" width="6" height="7"/><rect x="504" y="572" width="6" height="7"/><rect x="511" y="572" width="6" height="7"/><rect x="518" y="572" width="6" height="7"/><rect x="525" y="572" width="6" height="7"/><rect x="532" y="572" width="6" height="7"/><rect x="539" y="572" width="6" height="7"/><rect x="567" y="572" width="6" height="7"/><rect x="574" y="572" width="6" height="7"/><rect x="585" y="573" width="5" height="6"/><rect x="592" y="573" width="5" height="6"/><rect x="599" y="573" width="5" height="6"/><rect x="606" y="573" width="5" height="6"/><rect x="613" y="573" width="5" height="6"/></g>
<rect class="l" x="497" y="579" width="52" height="8"/><rect class="l" x="567" y="579" width="58" height="8"/>

<!-- right of BGA -->
<rect x="697.5" y="416.5" width="9" height="20" class="gw" stroke-width="1"/>
<g class="k"><rect x="697" y="416" width="10" height="7"/><rect x="697" y="429" width="10" height="7"/></g>
<rect class="l" x="707" y="416" width="8" height="20"/>
<rect class="l" x="647" y="437" width="12" height="18"/>
<g class="k"><rect x="654" y="442" width="6" height="6"/><rect x="654" y="449" width="6" height="6"/></g>
<rect class="l" x="675" y="437" width="18" height="30"/>
<g class="k"><rect x="677" y="443" width="6" height="7"/><rect x="685" y="443" width="6" height="7"/><rect x="677" y="452" width="6" height="7"/><rect x="685" y="452" width="6" height="7"/><rect x="677" y="460" width="6" height="5"/><rect x="685" y="460" width="6" height="5"/></g>
<rect class="l" x="652" y="468" width="22" height="33"/>
<g class="k"><rect x="654" y="470" width="7" height="12"/><rect x="662" y="470" width="7" height="12"/><rect x="654" y="485" width="7" height="12"/><rect x="662" y="485" width="7" height="12"/></g>
<g class="k"><rect x="677" y="468" width="26" height="8"/><rect x="677" y="493" width="26" height="8"/><rect x="703" y="467" width="6" height="6"/><rect x="703" y="474" width="6" height="6"/><rect x="703" y="489" width="6" height="6"/><rect x="703" y="496" width="6" height="6"/></g>
<rect class="l" x="700" y="463" width="13" height="42"/>
<circle cx="682" cy="487" r="3" class="g"/>
<rect class="l" x="648" y="505" width="18" height="28"/>
<g class="k"><rect x="650" y="507" width="6" height="6"/><rect x="658" y="507" width="6" height="6"/><rect x="650" y="515" width="6" height="6"/><rect x="658" y="515" width="6" height="6"/></g>
<rect class="l" x="666" y="503" width="45" height="30"/>
<g class="k"><rect x="669" y="507" width="7" height="12"/><rect x="676" y="505" width="10" height="8"/><rect x="676" y="515" width="10" height="7"/><rect x="693" y="505" width="10" height="8"/><rect x="693" y="515" width="10" height="7"/><rect x="703" y="507" width="7" height="12"/></g>

<!-- ===== bottom middle ===== -->
<rect class="l" x="313" y="637" width="32" height="9"/>
<g class="k"><rect x="314" y="630" width="6" height="6"/><rect x="321" y="630" width="6" height="6"/><rect x="328" y="630" width="6" height="6"/><rect x="335" y="630" width="6" height="6"/></g>
<rect class="l" x="300" y="663" width="82" height="86"/>
<g class="k"><rect x="320" y="663" width="7" height="13"/><rect x="339" y="673" width="6" height="6"/><rect x="346" y="673" width="6" height="6"/><rect x="353" y="673" width="6" height="6"/><rect x="360" y="673" width="6" height="6"/><rect x="339" y="681" width="6" height="6"/><rect x="346" y="681" width="6" height="6"/><rect x="353" y="681" width="6" height="6"/><rect x="360" y="681" width="6" height="6"/>
<rect x="303" y="680" width="6" height="6"/><rect x="311" y="680" width="6" height="6"/><rect x="303" y="688" width="6" height="6"/><rect x="311" y="688" width="6" height="6"/><rect x="303" y="700" width="6" height="6"/><rect x="311" y="700" width="6" height="6"/><rect x="303" y="708" width="6" height="6"/><rect x="311" y="708" width="6" height="6"/><rect x="303" y="720" width="6" height="6"/><rect x="311" y="720" width="6" height="6"/><rect x="303" y="728" width="6" height="6"/><rect x="311" y="728" width="6" height="6"/><rect x="303" y="740" width="6" height="6"/><rect x="311" y="740" width="6" height="6"/>
<rect x="342" y="697" width="28" height="5"/><rect x="342" y="721" width="28" height="5"/><rect x="370" y="695" width="7" height="7"/><rect x="370" y="703" width="7" height="7"/><rect x="370" y="719" width="7" height="7"/><rect x="370" y="727" width="7" height="7"/>
<rect x="341" y="734" width="7" height="6"/><rect x="350" y="733" width="9" height="13"/><rect x="361" y="734" width="7" height="6"/><rect x="341" y="741" width="7" height="6"/><rect x="361" y="741" width="7" height="6"/></g>
<circle cx="347" cy="713" r="2" fill="#fff"/>
<!-- X16 -->
<g class="o"><circle cx="393" cy="718" r="5"/><circle cx="420" cy="718" r="5"/><circle cx="393" cy="742" r="5"/><circle cx="420" cy="742" r="5"/></g>
<rect x="391" y="725" width="38" height="12" fill="url(#sp)"/>
<g class="k"><rect x="387" y="700" width="6" height="6"/><rect x="394" y="700" width="6" height="6"/><rect x="387" y="707" width="6" height="6"/><rect x="394" y="707" width="6" height="6"/><rect x="419" y="700" width="6" height="6"/><rect x="426" y="700" width="6" height="6"/><rect x="419" y="707" width="6" height="6"/><rect x="426" y="707" width="6" height="6"/></g>
<rect class="l" x="385" y="688" width="14" height="10"/><rect class="l" x="417" y="688" width="12" height="10"/>
<text x="408" y="716" font-size="7" text-anchor="middle">X16</text><text x="408" y="755" font-size="7" text-anchor="middle">JTAG_ICH</text>
<rect class="l" x="437" y="660" width="7" height="17"/>
<g class="k"><rect x="444" y="662" width="8" height="7"/><rect x="444" y="670" width="8" height="7"/></g>
<rect class="l" x="437" y="712" width="20" height="12"/><rect class="l" x="437" y="734" width="20" height="12"/>
<g class="tp"><circle cx="447" cy="719" r="3"/><circle cx="447" cy="742" r="3"/></g>
<rect class="l" x="473" y="660" width="32" height="87"/>
<g class="k"><rect x="477" y="680" width="6" height="7"/><rect x="485" y="680" width="6" height="7"/><rect x="493" y="680" width="6" height="7"/><rect x="477" y="692" width="6" height="7"/><rect x="485" y="692" width="6" height="7"/><rect x="493" y="692" width="6" height="7"/><rect x="480" y="733" width="6" height="8"/><rect x="488" y="733" width="6" height="8"/></g>
<g class="k"><rect x="513" y="643" width="10" height="7"/><rect x="525" y="643" width="10" height="7"/><rect x="537" y="643" width="10" height="7"/><rect x="513" y="655" width="10" height="7"/><rect x="525" y="655" width="10" height="7"/><rect x="537" y="655" width="10" height="7"/></g>
<rect class="l" x="507" y="650" width="52" height="5"/>
<rect x="510.5" y="669.5" width="29" height="35" class="go" stroke-width="1"/>
<g class="k"><rect x="515" y="671" width="18" height="13"/><rect x="515" y="690" width="18" height="13"/></g>
<rect class="l" x="541" y="680" width="7" height="15"/>
<rect x="502" y="708" width="38" height="35" class="go" stroke-width="2"/>
<rect x="508" y="712" width="28" height="30" class="k"/>
<rect class="l" x="503" y="744" width="8" height="8"/>
<g class="k"><rect x="544" y="716" width="6" height="8"/><rect x="544" y="725" width="6" height="8"/></g>
<rect class="l" x="542" y="734" width="8" height="10"/>
<rect class="l" x="553" y="700" width="20" height="18"/>
<g class="k"><rect x="554" y="719" width="9" height="9"/><rect x="564" y="719" width="9" height="9"/><rect x="554" y="729" width="9" height="9"/><rect x="564" y="729" width="9" height="9"/></g>
<rect class="l" x="567" y="660" width="8" height="22"/><rect class="l" x="577" y="660" width="8" height="22"/>
<g class="k"><rect x="566" y="683" width="4" height="8"/><rect x="571" y="683" width="4" height="8"/><rect x="577" y="683" width="5" height="8"/></g>
<rect class="l" x="592" y="663" width="30" height="12"/>
<g class="k"><rect x="594" y="683" width="8" height="12"/><rect x="608" y="683" width="8" height="12"/><rect x="601" y="696" width="8" height="4"/></g>
<rect x="598.5" y="704.5" width="24" height="18" class="gw" stroke-width="1"/>
<g class="k"><rect x="601" y="707" width="18" height="5"/><rect x="601" y="715" width="18" height="5"/><rect x="599" y="726" width="12" height="11"/></g>
<rect class="l" x="590" y="722" width="8" height="16"/>
<!-- X14 -->
<g class="o"><circle cx="701" cy="720" r="5"/><circle cx="727" cy="720" r="5"/><circle cx="701" cy="742" r="5"/><circle cx="727" cy="742" r="5"/></g>
<rect x="699" y="725" width="40" height="12" fill="url(#sp)"/>
<circle cx="744" cy="731" r="3" class="k"/>
<g class="k"><rect x="694" y="700" width="6" height="6"/><rect x="701" y="700" width="6" height="6"/><rect x="694" y="707" width="6" height="6"/><rect x="701" y="707" width="6" height="6"/><rect x="728" y="700" width="6" height="6"/><rect x="735" y="700" width="6" height="6"/><rect x="728" y="707" width="6" height="6"/><rect x="735" y="707" width="6" height="6"/></g>
<rect class="l" x="692" y="688" width="14" height="10"/><rect class="l" x="728" y="688" width="12" height="10"/>
<rect class="l" x="672" y="712" width="8" height="35"/>
<g class="tp"><circle cx="682" cy="720" r="3"/><circle cx="683" cy="742" r="3"/></g>
<text x="720" y="716" font-size="7" text-anchor="middle">X14</text><text x="720" y="755" font-size="7" text-anchor="middle">JTAG_CPU</text>

<!-- ===== side view ===== -->
<g class="o">
<rect x="907" y="96" width="56" height="37"/>
<line x1="907" y1="124" x2="963" y2="124"/><line x1="907" y1="128" x2="963" y2="128"/>
<path d="M950,133V145L963,138V133"/>
<path d="M890,104l9,-2M890,106l9,2M890,129l9,-2M890,131l9,2"/>
<rect x="907" y="234" width="70" height="33"/>
<rect x="933" y="239" width="74" height="22"/>
<line x1="941" y1="239" x2="941" y2="261"/><line x1="947" y1="239" x2="947" y2="261"/><line x1="973" y1="239" x2="973" y2="261"/><line x1="997" y1="239" x2="997" y2="261"/>
<rect x="973" y="245" width="10" height="9"/>
<path d="M890,236l9,-2M890,238l9,2M890,250h9"/>
<rect x="907" y="264" width="27" height="65" rx="3"/>
<rect x="911" y="270" width="19" height="53"/>
<rect x="907" y="349" width="60" height="70" rx="2"/>
<rect x="911" y="353" width="17" height="23"/><rect x="911" y="392" width="17" height="23"/>
<rect x="928" y="357" width="32" height="57"/>
<path d="M936,365h22M936,370h22M936,375h22M936,380h22M936,385h22M936,390h22M936,395h22M936,400h22M936,405h22"/>
<rect x="890" y="350" width="9" height="68"/>
<path d="M890,358h9M890,363h9M890,368h9M890,373h9M890,378h9M890,383h9M890,388h9M890,393h9M890,398h9M890,403h9M890,408h9"/>
</g>
<text x="918" y="389" font-size="7" text-anchor="middle" style="fill:#000">X</text>
<g class="k"><rect x="914" y="276" width="13" height="2"/><rect x="914" y="282" width="13" height="2"/><rect x="914" y="288" width="13" height="2"/><rect x="914" y="294" width="13" height="2"/><rect x="914" y="300" width="13" height="2"/><rect x="914" y="306" width="13" height="2"/><rect x="914" y="312" width="13" height="2"/></g>
<g id="susb" class="o">
<rect x="907" y="439" width="73" height="65" rx="3"/>
<rect x="911" y="443" width="65" height="57"/>
<rect x="925" y="449" width="8" height="45"/><rect x="963" y="449" width="8" height="45"/>
<rect x="937" y="449" width="25" height="45"/><line x1="950" y1="449" x2="950" y2="494"/>
<rect x="934" y="468" width="6" height="6"/><rect x="959" y="468" width="6" height="6"/>
<path d="M884,440l15,-4M890,452h9M890,464h9M890,476h9M890,488h9M884,505l15,-4"/>
<rect x="915" y="452" width="6" height="38"/>
</g>
<use href="#susb" y="85"/>
<g class="o">
<rect x="907" y="607" width="55" height="35"/>
<circle cx="938" cy="625" r="13"/><circle cx="938" cy="625" r="11"/><circle cx="938" cy="625" r="9"/><circle cx="938" cy="625" r="7"/>
<rect x="907" y="654" width="55" height="37"/>
<circle cx="938" cy="673" r="13"/><circle cx="938" cy="673" r="11"/><circle cx="938" cy="673" r="9"/><circle cx="938" cy="673" r="7"/>
<path d="M896,614h-5a3,3 0 0 0 0,6h5M896,620h-5a3,3 0 0 0 0,6h5"/>
<path d="M896,662h-5a3,3 0 0 0 0,6h5M896,668h-5a3,3 0 0 0 0,6h5"/>
</g>
</svg>
</body></html>
